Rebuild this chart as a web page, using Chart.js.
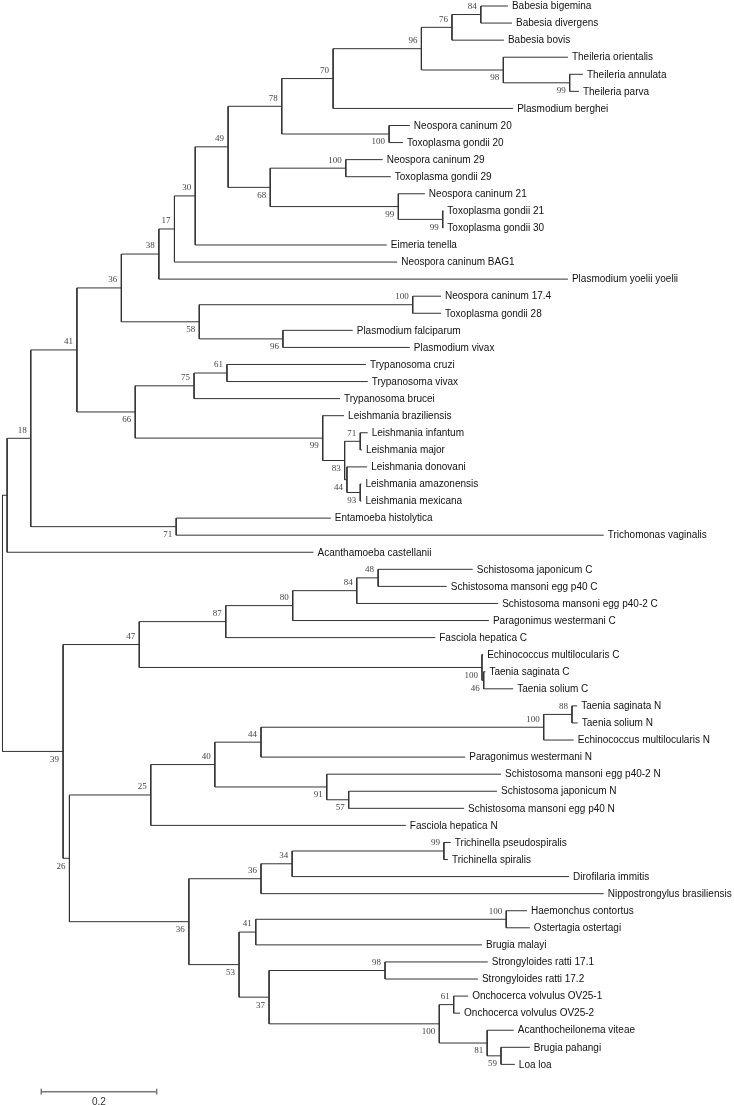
<!DOCTYPE html>
<html><head><meta charset="utf-8">
<script src="https://cdn.jsdelivr.net/npm/chart.js@4.4.1/dist/chart.umd.min.js"></script>
<style>html,body{margin:0;padding:0;background:#fff}#wrap{position:relative;width:734px;height:1105px}</style>
</head><body><div id="wrap"><canvas id="c"></canvas></div>
<script>
// Leaf taxa (top to bottom)
const leafNames = [
 "Babesia bigemina","Babesia divergens","Babesia bovis","Theileria orientalis","Theileria annulata","Theileria parva",
 "Plasmodium berghei","Neospora caninum 20","Toxoplasma gondii 20","Neospora caninum 29","Toxoplasma gondii 29",
 "Neospora caninum 21","Toxoplasma gondii 21","Toxoplasma gondii 30","Eimeria tenella","Neospora caninum BAG1",
 "Plasmodium yoelii yoelii","Neospora caninum 17.4","Toxoplasma gondii 28","Plasmodium falciparum","Plasmodium vivax",
 "Trypanosoma cruzi","Trypanosoma vivax","Trypanosoma brucei","Leishmania braziliensis","Leishmania infantum",
 "Leishmania major","Leishmania donovani","Leishmania amazonensis","Leishmania mexicana","Entamoeba histolytica",
 "Trichomonas vaginalis","Acanthamoeba castellanii","Schistosoma japonicum C","Schistosoma mansoni egg p40 C",
 "Schistosoma mansoni egg p40-2 C","Paragonimus westermani C","Fasciola hepatica C","Echinococcus multilocularis C",
 "Taenia saginata C","Taenia solium C","Taenia saginata N","Taenia solium N","Echinococcus multilocularis N",
 "Paragonimus westermani N","Schistosoma mansoni egg p40-2 N","Schistosoma japonicum N","Schistosoma mansoni egg p40 N",
 "Fasciola hepatica N","Trichinella pseudospiralis","Trichinella spiralis","Dirofilaria immitis",
 "Nippostrongylus brasiliensis","Haemonchus contortus","Ostertagia ostertagi","Brugia malayi",
 "Strongyloides ratti 17.1","Strongyloides ratti 17.2","Onchocerca volvulus OV25-1","Onchocerca volvulus OV25-2",
 "Acanthocheilonema viteae","Brugia pahangi","Loa loa"
];
// Distance of each leaf from the root (substitutions per site)
const leafDepth = [
 0.876,0.883,0.869,0.980,1.006,0.999,0.885,0.706,0.694,0.659,0.673,0.732,0.764,0.764,0.666,0.684,
 0.980,0.760,0.760,0.607,0.706,0.630,0.633,0.585,0.592,0.633,0.623,0.632,0.622,0.622,0.569,1.042,
 0.539,0.815,0.770,0.859,0.843,0.750,0.833,0.837,0.885,0.996,0.997,0.990,0.802,0.864,0.857,0.800,
 0.699,0.777,0.772,0.982,1.042,0.909,0.914,0.831,0.841,0.824,0.807,0.793,0.886,0.914,0.888
];
// Internal nodes: children (number = leaf index, "nK" = internal node K), depth, bootstrap
const nodeChildren = [
 ["n1","n33"],["n2",32],["n3","n32"],["n4","n24"],["n5","n21"],["n6",16],["n7",15],["n8",14],
 ["n9","n17"],["n10","n16"],["n11",6],["n12","n14"],["n13",2],[0,1],[3,"n15"],[4,5],
 [7,8],["n18","n19"],[9,10],[11,"n20"],[12,13],["n22","n23"],[17,18],[19,20],
 ["n25","n27"],["n26",23],[21,22],[24,"n28"],["n29","n30"],[25,26],[27,"n31"],[28,29],[30,31],
 ["n34","n41"],["n35","n39"],["n36",37],["n37",36],["n38",35],[33,34],[38,"n40"],[39,40],
 ["n42","n49"],["n43",48],["n44","n47"],["n45",44],["n46",43],[41,42],[45,"n48"],[46,47],
 ["n50","n53"],["n51",52],["n52",51],[49,50],["n54","n56"],["n55",55],[53,54],
 ["n57","n58"],[56,57],["n59","n60"],[58,59],[60,"n61"],[61,62]
];
const nodeDepth = [
 0,0.008,0.049,0.129,0.206,0.271,0.298,0.334,0.391,0.484,0.573,0.726,0.779,0.829,0.868,0.983,
 0.670,0.464,0.595,0.686,0.763,0.341,0.711,0.486,0.230,0.332,0.389,0.555,0.593,0.620,0.597,0.620,0.301,
 0.105,0.237,0.387,0.503,0.614,0.651,0.831,0.834,0.116,0.257,0.368,0.448,0.938,0.987,0.562,0.600,
 0.323,0.448,0.502,0.765,0.410,0.439,0.873,0.462,0.663,0.757,0.782,0.840,0.864
];
const nodeSupport = [
 "","","18","41","36","38","17","30","49","78","70","96","76","84","98","99",
 "100","68","100","99","99","58","100","96","66","75","61","99","83","71","44","93","71",
 "39","47","87","80","84","48","100","46","26","25","40","44","100","88","91","57",
 "36","36","34","99","53","41","100","37","98","100","61","81","59"
];
const scaleBarLength = 0.2;
const scaleBarLabel = "0.2";

// ---- compute layout from the data ----
const nodeY = new Array(nodeChildren.length);
const parentOf = {};
function refY(r){ return typeof r === "number" ? r : nodeYOf(parseInt(r.slice(1))); }
function refX(r){ return typeof r === "number" ? leafDepth[r] : nodeDepth[parseInt(r.slice(1))]; }
function nodeYOf(k){
  if (nodeY[k] === undefined){
    const ch = nodeChildren[k];
    nodeY[k] = (refY(ch[0]) + refY(ch[ch.length-1]))/2;
  }
  return nodeY[k];
}
nodeChildren.forEach((ch,k)=>{ ch.forEach((c,i)=>{ if(typeof c !== "number") parentOf[parseInt(c.slice(1))] = {p:k, first:i===0}; }); });
for (let k=0;k<nodeChildren.length;k++) nodeYOf(k);

const segs = [];
nodeChildren.forEach((ch,k)=>{
  const x = nodeDepth[k];
  segs.push({x:x,y:refY(ch[0])},{x:x,y:refY(ch[ch.length-1])},{x:x,y:null});
  ch.forEach(c=>{ const y = refY(c); segs.push({x:x,y:y},{x:refX(c),y:y},{x:x,y:null}); });
});
// scale bar (placed below the last leaf)
const sbX0 = 0.0672, sbY = 63.6;
const bar = [
 {x:sbX0,y:sbY},{x:sbX0+scaleBarLength,y:sbY},{x:sbX0,y:null},
 {x:sbX0,y:sbY-0.17},{x:sbX0,y:sbY+0.17},{x:sbX0,y:null},
 {x:sbX0+scaleBarLength,y:sbY-0.17},{x:sbX0+scaleBarLength,y:sbY+0.17}
];

const labelPlugin = {
  id:"treeLabels",
  afterDatasetsDraw(chart){
    const ctx = chart.ctx, xs = chart.scales.x, ys = chart.scales.y;
    ctx.save();
    ctx.font = "10px 'Liberation Sans', Arial, sans-serif";
    ctx.fillStyle = "#111";
    ctx.textAlign = "left"; ctx.textBaseline = "middle";
    leafNames.forEach((n,i)=>{
      ctx.fillText(n, xs.getPixelForValue(leafDepth[i]) + 4, ys.getPixelForValue(i) + 0.5);
    });
    ctx.font = "9px 'Liberation Serif', 'Times New Roman', serif";
    ctx.fillStyle = "#444";
    ctx.textAlign = "right";
    nodeSupport.forEach((s,k)=>{
      if(!s) return;
      const info = parentOf[k];
      const above = info ? info.first : true;
      const px = xs.getPixelForValue(nodeDepth[k]) - 4;
      const py = ys.getPixelForValue(nodeY[k]) + (above ? -8 : 8);
      ctx.fillText(s, px, py);
    });
    ctx.textAlign = "center";
    ctx.fillStyle = "#333";
    ctx.font = "10px 'Liberation Sans', Arial, sans-serif";
    ctx.fillText(scaleBarLabel, xs.getPixelForValue(sbX0 + scaleBarLength/2), ys.getPixelForValue(sbY) + 10.5);
    ctx.restore();
  }
};

new Chart(document.getElementById("c"), {
  type:"scatter",
  data:{datasets:[
    {data:segs, showLine:true, borderColor:"#333", borderWidth:1, pointRadius:0, tension:0, spanGaps:false, clip:false},
    {data:bar, showLine:true, borderColor:"#777", borderWidth:1.5, pointRadius:0, tension:0, spanGaps:false, clip:false}
  ]},
  options:{
    responsive:true, maintainAspectRatio:false, animation:false,
    layout:{padding:0},
    plugins:{legend:{display:false}, tooltip:{enabled:false}},
    events:[],
    scales:{
      x:{type:"linear", display:false, min:-0.00433, max:1.2678},
      y:{type:"linear", display:false, reverse:true, min:-0.3515, max:64.38}
    }
  },
  plugins:[labelPlugin]
});
</script></body></html>
